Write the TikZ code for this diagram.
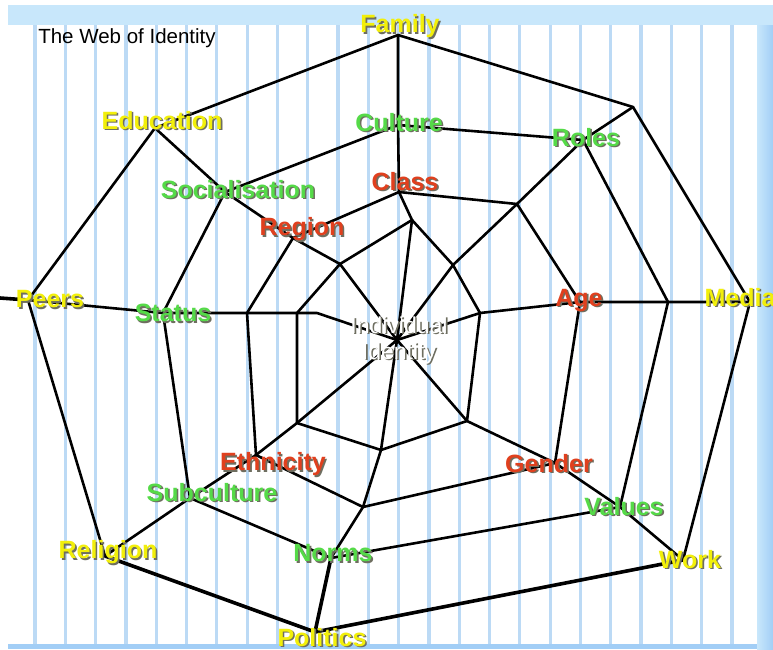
\documentclass[tikz,border=0pt]{standalone}
\usepackage{fontspec}
\setmainfont{Liberation Sans}
\usepackage{xcolor}
\usepackage{tikz}
\usetikzlibrary{positioning}
\tikzset{
  web/.style={draw=black, line width=2.6pt, line join=round, line cap=round},
  web thick/.style={web, line width=3.6pt},
  stripe/.style={draw=stripeBlue, line width=3.2pt},
  lbl base/.style={inner sep=0pt, font=\fontsize{25}{25}\selectfont\bfseries},
  outer lbl/.style={lbl base, text=yellowTxt},
  mid lbl/.style={lbl base, text=greenTxt},
  inner lbl/.style={lbl base, text=redTxt},
  core lbl/.style={inner sep=0pt, align=center, text=white,
    font=\fontsize{23}{26}\selectfont}
}
\definecolor{yellowTxt}{HTML}{F2EF0A}
\definecolor{greenTxt}{HTML}{55DA48}
\definecolor{redTxt}{HTML}{E0401E}
\definecolor{dropGray}{HTML}{6E6E60}
\definecolor{stripeBlue}{HTML}{BCDAF5}
\definecolor{bandBlue}{HTML}{C8E7FB}
\definecolor{edgeBlue}{HTML}{A2CEF6}
\newcommand{\dropped}[1]{%
  \rlap{\kern1.6pt\raisebox{-1.6pt}{\color{dropGray}#1}}#1}

\begin{document}
\begin{tikzpicture}[x=1pt, y=-1pt]
    \useasboundingbox (0,0) rectangle (773,649);

    % slide background
    \fill[bandBlue] (8,5) rectangle (773,25);
    \shade[left color=bandBlue, right color=edgeBlue] (757,25) rectangle (773,649);
    \fill[edgeBlue] (8,644) rectangle (757,649);
    \foreach \i in {0,...,23}
      \draw[stripe] ({35+30.3*\i},25) -- ({35+30.3*\i},644);

    \coordinate (ctr) at (397,340);

    \coordinate (fam1) at (412,220);
    \coordinate (fam2) at (399,192);
    \coordinate (fam3) at (398,125);
    \coordinate (fam4) at (398,35);

    \coordinate (cor1) at (453,265);
    \coordinate (cor2) at (517,204);
    \coordinate (cor3) at (583,140);
    \coordinate (cor4) at (633,107);

    \coordinate (med1) at (480,313);
    \coordinate (med2) at (580,302);
    \coordinate (med3) at (668,302);
    \coordinate (med4) at (750,302);

    \coordinate (wrk1) at (467,421);
    \coordinate (wrk2) at (555,463);
    \coordinate (wrk3) at (620,507);
    \coordinate (wrk4) at (683,560);

    \coordinate (pol1) at (381,450);
    \coordinate (pol2) at (363,507);
    \coordinate (pol3) at (331,558);
    \coordinate (pol4) at (315,632);

    \coordinate (rel1) at (297,423);
    \coordinate (rel2) at (256,455);
    \coordinate (rel3) at (190,498);
    \coordinate (rel4) at (105,556);

    \coordinate (peeBend) at (317,313);
    \coordinate (pee1) at (297,313);
    \coordinate (pee2) at (247,313);
    \coordinate (pee3) at (163,313);
    \coordinate (pee4) at (28,300);
    \coordinate (peeEnd) at (0,298);

    \coordinate (edu1) at (340,264);
    \coordinate (edu2) at (293,238);
    \coordinate (edu3) at (225,192);
    \coordinate (edu4) at (155,128);

    % spokes
    \draw[web] (ctr) -- (fam1) -- (fam2) -- (fam3) -- (fam4);
    \draw[web] (ctr) -- (cor1) -- (cor2) -- (cor3) -- (cor4);
    \draw[web] (ctr) -- (med1) -- (med2) -- (med3) -- (med4);
    \draw[web] (ctr) -- (wrk1) -- (wrk2) -- (wrk3) -- (wrk4);
    \draw[web] (ctr) -- (pol1) -- (pol2) -- (pol3);
    \draw[web thick] (pol3) -- (pol4);
    \draw[web] (ctr) -- (rel1) -- (rel2) -- (rel3) -- (rel4);
    \draw[web] (ctr) -- (peeBend) -- (pee1) -- (pee2) -- (pee3) -- (pee4);
    \draw[web thick] (pee4) -- (peeEnd);
    \draw[web] (ctr) -- (edu1) -- (edu2) -- (edu3) -- (edu4);

    % rings
    \draw[web] (fam1) -- (cor1) -- (med1) -- (wrk1) -- (pol1) -- (rel1)
      -- (pee1) -- (edu1) -- cycle;
    \draw[web] (fam2) -- (cor2) -- (med2) -- (wrk2) -- (pol2) -- (rel2)
      -- (pee2) -- (edu2) -- cycle;
    \draw[web] (fam3) -- (cor3) -- (med3) -- (wrk3) -- (pol3) -- (rel3)
      -- (pee3) -- (edu3) -- cycle;
    \draw[web] (rel4) -- (pee4) -- (edu4) -- (fam4) -- (cor4) -- (med4)
      -- (wrk4);
    \draw[web thick] (wrk4) -- (pol4) -- (rel4);

    \node[font=\fontsize{20.5}{20.5}\selectfont, inner sep=0pt] (title)
      at (127,38) {The Web of Identity};

    \node[outer lbl] (family) at (400,27) {\dropped{Family}};
    \node[outer lbl] (education) at (162,121) {\dropped{Education}};
    \node[outer lbl] (peers) at (50,300) {\dropped{Peers}};
    \node[outer lbl] (media) at (740,298) {\dropped{Media}};
    \node[outer lbl] (religion) at (108,553) {\dropped{Religion}};
    \node[outer lbl] (work) at (690,560) {\dropped{Work}};
    \node[outer lbl] (politics) at (322,638) {\dropped{Politics}};

    \node[mid lbl] (culture) at (399,123) {\dropped{Culture}};
    \node[mid lbl] (roles) at (586,138) {\dropped{Roles}};
    \node[mid lbl] (socialisation) at (238,190) {\dropped{Socialisation}};
    \node[mid lbl] (status) at (173,314) {\dropped{Status}};
    \node[mid lbl] (subculture) at (212,493) {\dropped{Subculture}};
    \node[mid lbl] (values) at (624,507) {\dropped{Values}};
    \node[mid lbl] (norms) at (333,554) {\dropped{Norms}};

    \node[inner lbl] (class) at (405,182) {\dropped{Class}};
    \node[inner lbl] (region) at (302,230) {\dropped{Region}};
    \node[inner lbl] (age) at (579,301) {\dropped{Age}};
    \node[inner lbl] (ethnicity) at (273,465) {\dropped{Ethnicity}};
    \node[inner lbl] (gender) at (549,464) {\dropped{Gender}};

    \node[core lbl] (identity) at (399,341)
      {\dropped{Individual}\\\dropped{Identity}};

  \end{tikzpicture}
\end{document}
